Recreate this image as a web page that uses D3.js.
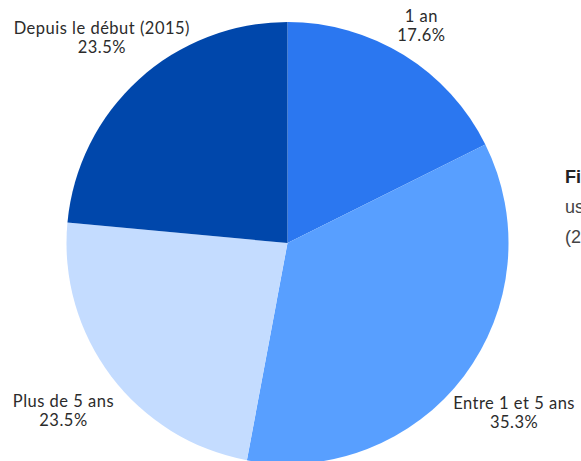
<!DOCTYPE html>
<html lang="fr">
<head>
    <meta charset="UTF-8">
    <title>Ancienneté</title>
    <script src="https://d3js.org/d3.v7.min.js"></script>
    <style>
        body { margin: 0; background: #fff; overflow: hidden; }
        .lbl { font-family: Lato, "Noto Sans", sans-serif; font-size: 16.5px; letter-spacing: 0.5px; fill: #2b2b2b; }
        .side { font-family: "Liberation Sans", Arial, sans-serif; font-size: 18px; fill: #444; }
    </style>
</head>
<body>
<svg id="chart" width="581" height="461"></svg>
<script>
    // Données
    const categories = ["1 an", "Entre 1 et 5 ans", "Plus de 5 ans", "Depuis le début (2015)"];
    const values = [3, 6, 4, 4];
    const colors = ["#2b77f0", "#589fff", "#c4dcff", "#0047ab"];
    const sideText = ["Fi", "us", "(2"];

    const svg = d3.select("#chart");
    const cx = 287.5, cy = 243, radius = 221;

    const total = d3.sum(values);
    const pie = d3.pie().sort(null).value(d => d.value);
    const arcs = pie(categories.map((c, i) => ({ name: c, value: values[i], color: colors[i] })));
    const arc = d3.arc().innerRadius(0).outerRadius(radius);

    const g = svg.append("g").attr("transform", `translate(${cx},${cy})`);

    g.selectAll("path")
        .data(arcs)
        .enter()
        .append("path")
        .attr("d", arc)
        .attr("fill", d => d.data.color);

    // Étiquettes
    const fmt = d => (d / total * 100).toFixed(1) + "%";
    arcs.forEach(a => {
        const mid = (a.startAngle + a.endAngle) / 2;
        const s = Math.sin(mid), c = Math.cos(mid);
        const t = g.append("text").attr("class", "lbl").attr("text-anchor", "middle");
        t.append("tspan").attr("x", 0).attr("dy", 0).text(a.data.name);
        t.append("tspan").attr("x", 0).attr("dy", 19).text(fmt(a.data.value));
        const w = t.node().getBBox().width / 2;
        // distance du centre du bloc au centre de la tarte
        const L = radius + 24 + 0.31 * w + 25 * (1 - c) / 2;
        t.attr("transform", `translate(${L * s},${-L * c - 5})`);
    });

    // Texte latéral coupé
    sideText.forEach((txt, i) => {
        svg.append("text")
            .attr("class", "side")
            .attr("x", 565)
            .attr("y", 183 + i * 30)
            .style("font-weight", i === 0 ? "bold" : "normal")
            .style("fill", i === 0 ? "#222" : "#444")
            .text(txt);
    });
</script>
</body>
</html>
